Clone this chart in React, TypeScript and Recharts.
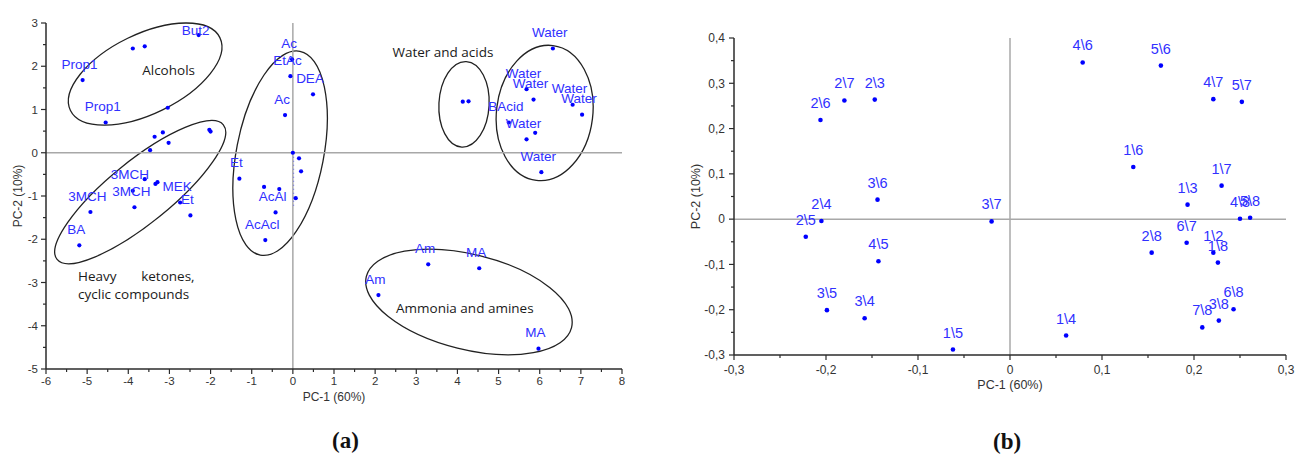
import React from 'react'
import { ScatterChart, Scatter, XAxis, YAxis, ReferenceLine, ReferenceArea, ReferenceDot } from 'recharts'

// ---- (a) solvents, PC-1 / PC-2 ----
const alcoholsA = [
  { x: -2.29, y: 2.72, name: 'But2' },
  { x: -3.89, y: 2.41, name: '' },
  { x: -3.6, y: 2.46, name: '' },
  { x: -5.11, y: 1.68, name: 'Prop1' },
  { x: -4.55, y: 0.7, name: 'Prop1' },
  { x: -3.04, y: 1.04, name: '' },
]

const heavyA = [
  { x: -2.03, y: 0.53, name: '' },
  { x: -2.0, y: 0.49, name: '' },
  { x: -3.36, y: 0.37, name: '' },
  { x: -3.16, y: 0.47, name: '' },
  { x: -3.02, y: 0.23, name: '' },
  { x: -3.47, y: 0.06, name: '' },
  { x: -3.6, y: -0.61, name: '' },
  { x: -3.34, y: -0.72, name: '' },
  { x: -3.29, y: -0.68, name: '' },
  { x: -3.89, y: -0.88, name: '3MCH' },
  { x: -3.85, y: -1.26, name: '3MCH' },
  { x: -4.92, y: -1.37, name: '3MCH' },
  { x: -5.19, y: -2.14, name: 'BA' },
  { x: -2.74, y: -1.15, name: 'MEK' },
  { x: -2.49, y: -1.45, name: 'Et' },
]

const middleA = [
  { x: -0.02, y: 2.16, name: 'Ac' },
  { x: -0.06, y: 1.77, name: 'EtAc' },
  { x: 0.49, y: 1.35, name: 'DEA' },
  { x: -0.19, y: 0.87, name: 'Ac' },
  { x: -1.3, y: -0.6, name: 'Et' },
  { x: 0.0, y: 0.0, name: '' },
  { x: 0.15, y: -0.13, name: '' },
  { x: 0.2, y: -0.43, name: '' },
  { x: 0.07, y: -1.05, name: '' },
  { x: -0.7, y: -0.79, name: '' },
  { x: -0.33, y: -0.84, name: '' },
  { x: -0.42, y: -1.38, name: 'AcAl' },
  { x: -0.67, y: -2.02, name: 'AcAcl' },
]

const waterA = [
  { x: 4.13, y: 1.18, name: '' },
  { x: 4.27, y: 1.19, name: '' },
  { x: 6.32, y: 2.41, name: 'Water' },
  { x: 5.68, y: 1.47, name: 'Water' },
  { x: 5.85, y: 1.23, name: 'Water' },
  { x: 6.8, y: 1.11, name: 'Water' },
  { x: 7.03, y: 0.88, name: 'Water' },
  { x: 5.25, y: 0.7, name: 'BAcid' },
  { x: 5.89, y: 0.46, name: '' },
  { x: 5.68, y: 0.31, name: 'Water' },
  { x: 6.04, y: -0.45, name: 'Water' },
]

const aminesA = [
  { x: 3.29, y: -2.58, name: 'Am' },
  { x: 4.53, y: -2.67, name: 'MA' },
  { x: 2.08, y: -3.29, name: 'Am' },
  { x: 5.97, y: -4.53, name: 'MA' },
]

// group outlines, centre + half-axes in data units, tilt in degrees
const ellipsesA = [
  { cx: -3.59, cy: 1.82, rx: 2.02, ry: 0.92, angle: -26 },
  { cx: -3.71, cy: -0.91, rx: 2.6, ry: 0.72, angle: -39 },
  { cx: -0.31, cy: -0.01, rx: 1.06, ry: 2.4, angle: 11 },
  { cx: 4.16, cy: 1.12, rx: 0.61, ry: 0.99, angle: 3 },
  { cx: 6.12, cy: 0.92, rx: 1.17, ry: 1.57, angle: 7 },
  { cx: 4.28, cy: -3.45, rx: 2.57, ry: 1.1, angle: 14 },
]

const notesA = [
  { x: -3.02, y: 1.91, text: 'Alcohols', anchor: 'middle' },
  { x: -5.22, y: -2.85, text: 'Heavy       ketones,', anchor: 'start' },
  { x: -5.22, y: -3.27, text: 'cyclic compounds', anchor: 'start' },
  { x: 2.42, y: 2.33, text: 'Water and acids', anchor: 'start' },
  { x: 4.18, y: -3.58, text: 'Ammonia and amines', anchor: 'middle' },
]

const xTicksA = [-6, -5.5, -5, -4.5, -4, -3.5, -3, -2.5, -2, -1.5, -1, -0.5, 0, 0.5, 1, 1.5, 2, 2.5, 3, 3.5, 4, 4.5, 5, 5.5, 6, 6.5, 7, 7.5, 8]
const yTicksA = [-5, -4.5, -4, -3.5, -3, -2.5, -2, -1.5, -1, -0.5, 0, 0.5, 1, 1.5, 2, 2.5, 3]

// ---- (b) sensor pairs ----
const pairsB = [
  { x: -0.206, y: 0.219, name: '2\\6' },
  { x: -0.18, y: 0.262, name: '2\\7' },
  { x: -0.147, y: 0.264, name: '2\\3' },
  { x: -0.144, y: 0.043, name: '3\\6' },
  { x: -0.205, y: -0.004, name: '2\\4' },
  { x: -0.222, y: -0.039, name: '2\\5' },
  { x: -0.143, y: -0.093, name: '4\\5' },
  { x: -0.199, y: -0.201, name: '3\\5' },
  { x: -0.158, y: -0.219, name: '3\\4' },
  { x: -0.062, y: -0.288, name: '1\\5' },
  { x: -0.02, y: -0.005, name: '3\\7' },
  { x: 0.079, y: 0.346, name: '4\\6' },
  { x: 0.164, y: 0.339, name: '5\\6' },
  { x: 0.221, y: 0.265, name: '4\\7' },
  { x: 0.252, y: 0.259, name: '5\\7' },
  { x: 0.134, y: 0.115, name: '1\\6' },
  { x: 0.23, y: 0.074, name: '1\\7' },
  { x: 0.193, y: 0.032, name: '1\\3' },
  { x: 0.25, y: 0.001, name: '4\\8' },
  { x: 0.261, y: 0.003, name: '5\\8' },
  { x: 0.192, y: -0.052, name: '6\\7' },
  { x: 0.154, y: -0.074, name: '2\\8' },
  { x: 0.221, y: -0.074, name: '1\\2' },
  { x: 0.226, y: -0.096, name: '1\\8' },
  { x: 0.243, y: -0.199, name: '6\\8' },
  { x: 0.227, y: -0.224, name: '3\\8' },
  { x: 0.209, y: -0.239, name: '7\\8' },
  { x: 0.061, y: -0.257, name: '1\\4' },
]

const xTicksB = [-0.3, -0.25, -0.2, -0.15, -0.1, -0.05, 0, 0.05, 0.1, 0.15, 0.2, 0.25, 0.3]
const yTicksB = [-0.3, -0.25, -0.2, -0.15, -0.1, -0.05, 0, 0.05, 0.1, 0.15, 0.2, 0.25, 0.3, 0.35, 0.4]

const SANS = '"Liberation Sans", Arial, sans-serif'
const NOTE_FONT = '"Open Sans", sans-serif'
const AXIS = '#2b2b2b'
const GRID = '#a8a8a8'
const DOT = '#0000ff'
const LABEL = '#3030ff'

// labels sitting somewhere else than just above their point
const labelRaiseA: Record<string, number> = { But2: 0 }

const isMajorA = (v: number) => Number.isInteger(v)
const isMajorB = (v: number) => Math.round(v * 100) % 10 === 0
const fmtA = (v: number) => String(v)
const fmtB = (v: number) => (v === 0 ? '0' : v.toFixed(1).replace('.', ','))

function xTick(isMajor: (v: number) => boolean, fmt: (v: number) => string, size: number, gap: number) {
  return (p: any) => {
    const v = p.payload.value
    const major = isMajor(v)
    return (
      <g>
        <line x1={p.x} x2={p.x} y1={p.y} y2={p.y + (major ? 5 : 3)} stroke={AXIS} strokeWidth={1.2} />
        {major && (
          <text x={p.x} y={p.y + gap} textAnchor="middle" fontSize={size} fill="#333" fontFamily={SANS}>
            {fmt(v)}
          </text>
        )}
      </g>
    )
  }
}

function yTick(isMajor: (v: number) => boolean, fmt: (v: number) => string, size: number, gap: number) {
  return (p: any) => {
    const v = p.payload.value
    const major = isMajor(v)
    return (
      <g>
        <line x1={p.x - (major ? 5 : 3)} x2={p.x} y1={p.y} y2={p.y} stroke={AXIS} strokeWidth={1.2} />
        {major && (
          <text x={p.x - gap} y={p.y} dy="0.36em" textAnchor="end" fontSize={size} fill="#333" fontFamily={SANS}>
            {fmt(v)}
          </text>
        )}
      </g>
    )
  }
}

const dotA = (p: any) => {
  const name = p.payload?.name
  const raise = name in labelRaiseA ? labelRaiseA[name] : 11.5
  return (
    <g>
      <circle cx={p.cx} cy={p.cy} r={2.1} fill={DOT} />
      {name ? (
        <text x={p.cx - 3} y={p.cy - raise} textAnchor="middle" fontSize={13.5} fill={LABEL} fontFamily={SANS}>
          {name}
        </text>
      ) : null}
    </g>
  )
}

const dotB = (p: any) => (
  <g>
    <circle cx={p.cx} cy={p.cy} r={2.3} fill={DOT} />
    <text x={p.cx} y={p.cy - 12} textAnchor="middle" fontSize={14.5} fill={LABEL} fontFamily={SANS}>
      {p.payload?.name}
    </text>
  </g>
)

const ellipseShape = (angle: number) => (p: any) => {
  const cx = p.x + p.width / 2
  const cy = p.y + p.height / 2
  return (
    <ellipse
      cx={cx}
      cy={cy}
      rx={Math.abs(p.width) / 2}
      ry={Math.abs(p.height) / 2}
      transform={`rotate(${angle} ${cx} ${cy})`}
      fill="none"
      stroke="#222"
      strokeWidth={1.3}
    />
  )
}

const noteShape = (text: string, anchor: string) => (p: any) => (
  <text
    x={p.cx}
    y={p.cy}
    textAnchor={anchor}
    dominantBaseline="central"
    fontSize={13.5}
    fill="#1a1a1a"
    fontFamily={NOTE_FONT}
    style={{ whiteSpace: 'pre' }}
  >
    {text}
  </text>
)

const axisLine = { stroke: AXIS, strokeWidth: 1.5 }

function ChartA() {
  return (
    <ScatterChart width={660} height={454} margin={{ top: 23, right: 38, bottom: 55, left: 0 }}>
      <XAxis
        type="number"
        dataKey="x"
        domain={[-6, 8]}
        ticks={xTicksA}
        interval={0}
        tickSize={0}
        tickMargin={0}
        tickLine={false}
        tick={xTick(isMajorA, fmtA, 11.5, 16)}
        axisLine={axisLine}
        height={30}
        allowDataOverflow
        label={{ value: 'PC-1 (60%)', position: 'insideBottom', offset: -2, fontSize: 12, fill: '#333', fontFamily: SANS }}
      />
      <YAxis
        type="number"
        dataKey="y"
        domain={[-5, 3]}
        ticks={yTicksA}
        interval={0}
        tickSize={0}
        tickMargin={0}
        tickLine={false}
        tick={yTick(isMajorA, fmtA, 11.5, 8)}
        axisLine={axisLine}
        width={46}
        allowDataOverflow
        label={{ value: 'PC-2 (10%)', angle: -90, position: 'insideLeft', offset: 18, fontSize: 12, fill: '#333', fontFamily: SANS, style: { textAnchor: 'middle' } }}
      />
      <ReferenceLine x={0} stroke={GRID} strokeWidth={1.5} />
      <ReferenceLine y={0} stroke={GRID} strokeWidth={1.5} />
      <ReferenceLine segment={[{ x: 0.02, y: 0 }, { x: 0.02, y: -1.25 }]} stroke={DOT} strokeDasharray="1 3" strokeOpacity={0.5} />
      {ellipsesA.map((e, i) => (
        <ReferenceArea
          key={`e${i}`}
          x1={e.cx - e.rx}
          x2={e.cx + e.rx}
          y1={e.cy - e.ry}
          y2={e.cy + e.ry}
          ifOverflow="visible"
          shape={ellipseShape(e.angle)}
        />
      ))}
      {notesA.map((n, i) => (
        <ReferenceDot key={`n${i}`} x={n.x} y={n.y} r={0} ifOverflow="visible" shape={noteShape(n.text, n.anchor)} />
      ))}
      <Scatter data={alcoholsA} shape={dotA} isAnimationActive={false} />
      <Scatter data={heavyA} shape={dotA} isAnimationActive={false} />
      <Scatter data={middleA} shape={dotA} isAnimationActive={false} />
      <Scatter data={waterA} shape={dotA} isAnimationActive={false} />
      <Scatter data={aminesA} shape={dotA} isAnimationActive={false} />
    </ScatterChart>
  )
}

function ChartB() {
  return (
    <ScatterChart width={636} height={454} margin={{ top: 38, right: 10, bottom: 69, left: 0 }}>
      <XAxis
        type="number"
        dataKey="x"
        domain={[-0.3, 0.3]}
        ticks={xTicksB}
        interval={0}
        tickSize={0}
        tickMargin={0}
        tickLine={false}
        tick={xTick(isMajorB, fmtB, 12, 18.5)}
        axisLine={axisLine}
        height={30}
        allowDataOverflow
        label={{ value: 'PC-1 (60%)', position: 'insideBottom', offset: -4, fontSize: 12.5, fill: '#333', fontFamily: SANS }}
      />
      <YAxis
        type="number"
        dataKey="y"
        domain={[-0.3, 0.4]}
        ticks={yTicksB}
        interval={0}
        tickSize={0}
        tickMargin={0}
        tickLine={false}
        tick={yTick(isMajorB, fmtB, 12, 9)}
        axisLine={axisLine}
        width={74}
        allowDataOverflow
        label={{ value: 'PC-2 (10%)', angle: -90, position: 'insideLeft', offset: 36, fontSize: 12.5, fill: '#333', fontFamily: SANS, style: { textAnchor: 'middle' } }}
      />
      <ReferenceLine x={0} stroke={GRID} strokeWidth={1.5} />
      <ReferenceLine y={0} stroke={GRID} strokeWidth={1.5} />
      <Scatter data={pairsB} shape={dotB} isAnimationActive={false} />
    </ScatterChart>
  )
}

const panelTag: React.CSSProperties = {
  position: 'absolute',
  fontFamily: '"Liberation Serif", "Times New Roman", serif',
  fontWeight: 'bold',
  fontSize: 23,
  lineHeight: 1,
  color: '#111',
}

export default function App() {
  return (
    <div style={{ position: 'absolute', left: 0, top: 0, width: 1296, height: 454, background: '#fff', overflow: 'hidden' }}>
      <div style={{ position: 'absolute', left: 0, top: 0 }}>
        <ChartA />
      </div>
      <div style={{ position: 'absolute', left: 660, top: 0 }}>
        <ChartB />
      </div>
      <div style={{ ...panelTag, left: 332, top: 429 }}>(a)</div>
      <div style={{ ...panelTag, left: 993, top: 430 }}>(b)</div>
    </div>
  )
}
